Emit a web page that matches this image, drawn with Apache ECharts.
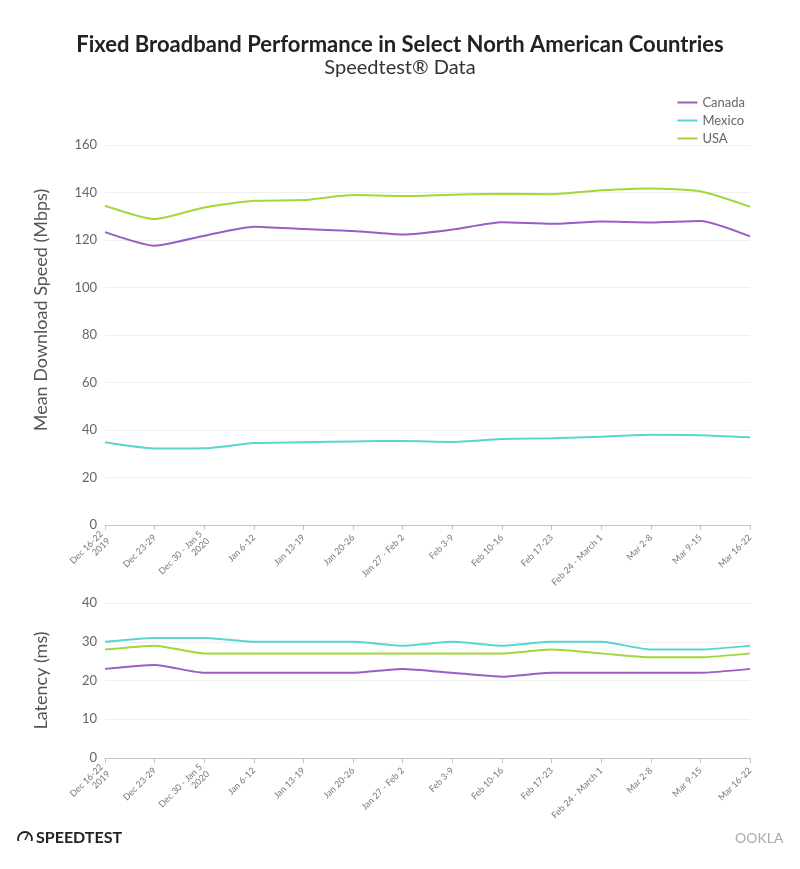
<!DOCTYPE html>
<html><head><meta charset="utf-8">
<script src="https://cdn.jsdelivr.net/npm/echarts@6/dist/echarts.min.js"></script>
<style>html,body{margin:0;padding:0;background:#fff}#c{width:800px;height:869px}</style>
</head><body><div id="c"></div>
<script>
const categories = ["Dec 16-22\n2019","Dec 23-29","Dec 30 - Jan 5\n2020","Jan 6-12","Jan 13-19","Jan 20-26","Jan 27 - Feb 2","Feb 3-9","Feb 10-16","Feb 17-23","Feb 24 - March 1","Mar 2-8","Mar 9-15","Mar 16-22"];
const downloadCanada = [123.3,117.6,121.8,125.6,124.6,123.8,122.3,124.4,127.5,126.8,127.8,127.4,128.0,121.5];
const downloadMexico = [34.8,32.2,32.3,34.5,34.8,35.2,35.4,35.0,36.2,36.5,37.2,38.0,37.8,36.9];
const downloadUSA = [134.4,128.8,133.7,136.5,136.8,138.9,138.5,139.1,139.5,139.3,140.9,141.7,140.5,134.0];
const latencyCanada = [23,24,22,22,22,22,23,22,21,22,22,22,22,23];
const latencyMexico = [30,31,31,30,30,30,29,30,29,30,30,28,28,29];
const latencyUSA = [28,29,27,27,27,27,27,27,27,28,27,26,26,27];

const colors = {Canada:'#9b5cc4', Mexico:'#55d6cf', USA:'#a5d63a'};
const FONT = 'Lato';
const chart = echarts.init(document.getElementById('c'));
const xAxisBase = {
  type:'category', data:categories, boundaryGap:false,
  axisLine:{lineStyle:{color:'#c4c4c4'}},
  axisTick:{lineStyle:{color:'#c4c4c4'}, length:5},
  axisLabel:{rotate:45, fontSize:9, color:'#777', fontFamily:FONT, interval:0, margin:11, lineHeight:10, align:'right'},
  splitLine:{show:false}
};
const yAxisBase = {
  type:'value', nameLocation:'middle',
  axisLine:{show:false}, axisTick:{show:false},
  axisLabel:{fontSize:13, color:'#666', fontFamily:FONT, margin:8},
  splitLine:{lineStyle:{color:'#efefef'}}
};
function line(name, data, xi){
  return {name, type:'line', data, xAxisIndex:xi, yAxisIndex:xi, smooth:0.2, symbol:'none',
    lineStyle:{width:2, color:colors[name]}, itemStyle:{color:colors[name]}};
}
chart.setOption({
  animation:false,
  title:[
    {text:'Fixed Broadband Performance in Select North American Countries', left:'center', top:29,
     textStyle:{fontSize:22, fontWeight:'bold', color:'#222', fontFamily:FONT}},
    {text:'Speedtest® Data', left:'center', top:53, textStyle:{fontSize:20, fontWeight:'normal', color:'#333', fontFamily:FONT}}
  ],
  legend:{orient:'vertical', right:50, top:91, itemWidth:20, itemHeight:2, itemGap:5, icon:'rect',
    textStyle:{fontSize:13, color:'#666', fontFamily:FONT}, data:['Canada','Mexico','USA']},
  grid:[
    {left:105, right:50, top:145, height:380},
    {left:105, right:50, top:603, height:155}
  ],
  xAxis:[Object.assign({gridIndex:0}, xAxisBase), Object.assign({gridIndex:1}, xAxisBase)],
  yAxis:[
    Object.assign({}, yAxisBase, {gridIndex:0, min:0, max:160, interval:20, name:'Mean Download Speed (Mbps)', nameGap:55,
      nameTextStyle:{fontSize:18, color:'#555', fontFamily:FONT, padding:[0,0,0,50]}}),
    Object.assign({}, yAxisBase, {gridIndex:1, min:0, max:40, interval:10, name:'Latency (ms)', nameGap:55,
      nameTextStyle:{fontSize:18, color:'#555', fontFamily:FONT}})
  ],
  series:[
    line('Canada', downloadCanada, 0), line('Mexico', downloadMexico, 0), line('USA', downloadUSA, 0),
    line('Canada', latencyCanada, 1), line('Mexico', latencyMexico, 1), line('USA', latencyUSA, 1)
  ],
  graphic:[
    {type:'circle', shape:{cx:25, cy:839, r:7}, style:{fill:'none', stroke:'#222', lineWidth:1.8}},
    {type:'rect', shape:{x:15, y:841, width:20, height:8}, style:{fill:'#fff'}},
    {type:'line', shape:{x1:25, y1:840, x2:28, y2:834}, style:{stroke:'#222', lineWidth:1.6}},
    {type:'text', left:36, top:830, style:{text:'SPEEDTEST', fontSize:16, fontWeight:'bold', fill:'#222', fontFamily:FONT}},
    {type:'text', left:735, top:831, style:{text:'OOKLA', fontSize:14, fontWeight:'normal', fill:'#aaa', fontFamily:FONT}}
  ]
});
</script></body></html>
